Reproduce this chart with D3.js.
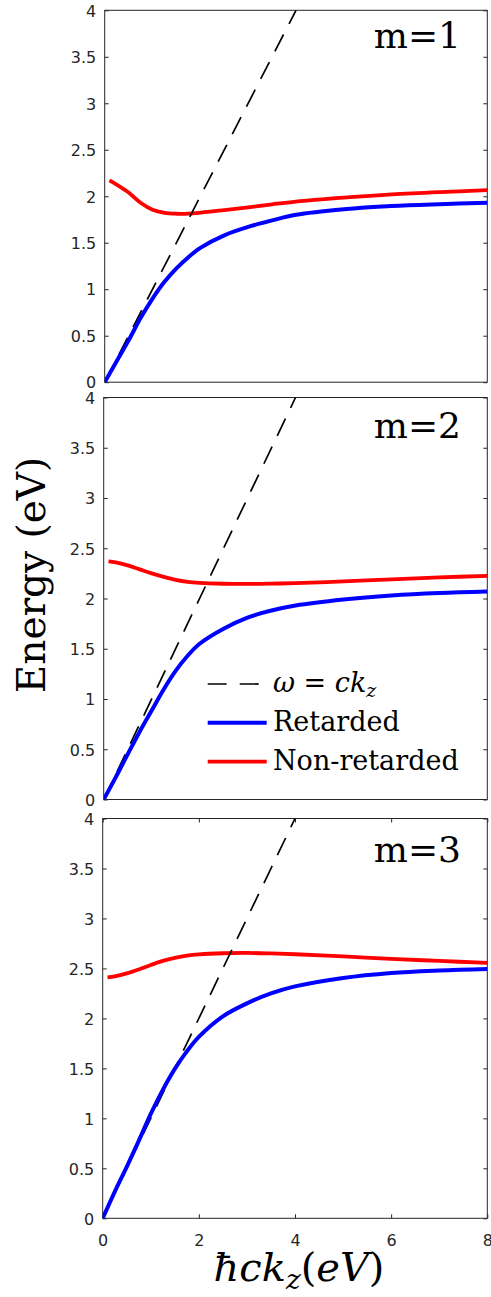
<!DOCTYPE html>
<html>
<head>
<meta charset="utf-8">
<script src="https://cdn.jsdelivr.net/npm/d3@7"></script>
<style>
  body { margin: 0; background: #fff; }
  svg { display: block; }
  .tick text { font-family: "DejaVu Sans", sans-serif; font-size: 16px; fill: #262626; }
  .tick line { stroke: #262626; }
  .serif { font-family: "DejaVu Serif", serif; fill: #000; }
</style>
</head>
<body>
<svg id="chart" width="491" height="1297"></svg>
<script>
// hbar*c*kz (eV) sample points
const kzRetarded    = [0, 0.25, 0.5, 0.75, 1, 1.25, 1.5, 1.75, 2, 2.5, 3, 3.5, 4, 5, 6, 7, 8];
const kzNonRetarded = [0.1, 0.25, 0.5, 0.75, 1, 1.25, 1.5, 1.75, 2, 2.5, 3, 3.5, 4, 5, 6, 7, 8];

// Energy (eV), m = 1
const retardedM1    = [0, 0.225, 0.45, 0.69, 0.9, 1.08, 1.225, 1.345, 1.445, 1.58, 1.67, 1.74, 1.80, 1.86, 1.895, 1.915, 1.93];
const nonRetardedM1 = [2.17, 2.125, 2.04, 1.93, 1.855, 1.822, 1.812, 1.813, 1.823, 1.85, 1.88, 1.913, 1.943, 1.985, 2.02, 2.045, 2.065];
// m = 2
const retardedM2    = [0, 0.22, 0.45, 0.675, 0.885, 1.095, 1.28, 1.43, 1.55, 1.70, 1.81, 1.88, 1.93, 1.99, 2.03, 2.055, 2.07];
const nonRetardedM2 = [2.37, 2.36, 2.33, 2.29, 2.25, 2.215, 2.185, 2.165, 2.155, 2.147, 2.145, 2.148, 2.153, 2.17, 2.19, 2.21, 2.225];
// m = 3
const retardedM3    = [0, 0.265, 0.515, 0.775, 1.045, 1.285, 1.495, 1.67, 1.815, 2.02, 2.15, 2.25, 2.32, 2.405, 2.455, 2.48, 2.495];
const nonRetardedM3 = [2.41, 2.42, 2.45, 2.49, 2.535, 2.575, 2.605, 2.627, 2.64, 2.652, 2.655, 2.65, 2.642, 2.62, 2.595, 2.575, 2.555];

// light line omega = c kz
const lightK = [0, 4];
const lightE = [0, 4];

const xTickValues = [0, 2, 4, 6, 8];
const xTickLabels = ['0', '2', '4', '6', '8'];
const yTickValues = [0, 0.5, 1, 1.5, 2, 2.5, 3, 3.5, 4];
const yTickLabels = ['0', '0.5', '1', '1.5', '2', '2.5', '3', '3.5', '4'];
const modeLabels = ['m=1', 'm=2', 'm=3'];

const panels = [
  { left: 104.7, right: 487.3, top: 10.3,  bottom: 382.2,  label: modeLabels[0], labelDy: 38, retarded: retardedM1, nonRetarded: nonRetardedM1, xTicks: false, legend: false },
  { left: 103.7, right: 487.3, top: 397.5, bottom: 799.5,  label: modeLabels[1], labelDy: 40, retarded: retardedM2, nonRetarded: nonRetardedM2, xTicks: false, legend: true },
  { left: 102.7, right: 487.3, top: 818.5, bottom: 1218.3, label: modeLabels[2], labelDy: 43, retarded: retardedM3, nonRetarded: nonRetardedM3, xTicks: true,  legend: false }
];

const svg = d3.select('#chart');
const axisColor = '#262626';

panels.forEach((p, i) => {
  const width = p.right - p.left;
  const height = p.bottom - p.top;

  const x = d3.scaleLinear().domain([0, 8]).range([0, width]);
  const y = d3.scaleLinear().domain([0, 4]).range([height, 0]);

  const g = svg.append('g').attr('transform', `translate(${p.left},${p.top})`);

  g.append('clipPath').attr('id', `clip${i}`)
    .append('rect').attr('width', width).attr('height', height);

  // y axis, ticks pointing inward
  const yAxis = d3.axisLeft(y).tickValues(yTickValues)
    .tickFormat((d, j) => yTickLabels[j])
    .tickSizeInner(-4).tickSizeOuter(0).tickPadding(8.5);
  g.append('g').call(yAxis)
    .call(a => a.select('.domain').remove())
    .selectAll('text').attr('dy', '0.36em');

  g.append('g').attr('transform', `translate(${width},0)`)
    .call(d3.axisRight(y).tickValues(yTickValues).tickFormat('').tickSizeInner(-4).tickSizeOuter(0))
    .call(a => a.select('.domain').remove());

  if (p.xTicks) {
    g.append('g').attr('transform', `translate(0,${height})`)
      .call(d3.axisBottom(x).tickValues(xTickValues)
        .tickFormat((d, j) => xTickLabels[j])
        .tickSizeInner(-4).tickSizeOuter(0).tickPadding(16))
      .call(a => a.select('.domain').remove());
    g.append('g')
      .call(d3.axisTop(x).tickValues(xTickValues).tickFormat('').tickSizeInner(-4).tickSizeOuter(0))
      .call(a => a.select('.domain').remove());
  }

  g.append('rect')
    .attr('width', width).attr('height', height)
    .attr('fill', 'none').attr('stroke', axisColor).attr('stroke-width', 1);

  const line = d3.line().x(d => x(d[0])).y(d => y(d[1])).curve(d3.curveCatmullRom.alpha(0.5));
  const plot = g.append('g').attr('clip-path', `url(#clip${i})`);

  plot.append('path')
    .datum(kzNonRetarded.map((k, j) => [k, p.nonRetarded[j]]))
    .attr('d', line).attr('fill', 'none')
    .attr('stroke', '#ff0000').attr('stroke-width', 3.8);

  plot.append('path')
    .datum(lightK.map((k, j) => [k, lightE[j]]))
    .attr('d', d3.line().x(d => x(d[0])).y(d => y(d[1])))
    .attr('fill', 'none').attr('stroke', '#000')
    .attr('stroke-width', 1.7).attr('stroke-dasharray', '19,12');

  plot.append('path')
    .datum(kzRetarded.map((k, j) => [k, p.retarded[j]]))
    .attr('d', line).attr('fill', 'none')
    .attr('stroke', '#0000ff').attr('stroke-width', 4);

  g.append('text').attr('class', 'serif')
    .attr('x', 461 - p.left).attr('y', p.labelDy)
    .attr('text-anchor', 'end')
    .style('font-size', '36px')
    .text(p.label);

  if (p.legend) {
    const legendRows = [
      { y: 684 - p.top, color: '#000', width: 1.7, dash: '19,13' },
      { y: 722.7 - p.top, color: '#0000ff', width: 4, dash: null },
      { y: 761.7 - p.top, color: '#ff0000', width: 3.8, dash: null }
    ];
    const lx0 = 207.7 - p.left, lx1 = 266.7 - p.left, tx = 273 - p.left;
    legendRows.forEach(r => {
      g.append('line')
        .attr('x1', lx0).attr('x2', lx1).attr('y1', r.y).attr('y2', r.y)
        .attr('stroke', r.color).attr('stroke-width', r.width)
        .attr('stroke-dasharray', r.dash);
    });
    const t0 = g.append('text').attr('class', 'serif')
      .attr('x', tx).attr('y', legendRows[0].y + 8).style('font-size', '27px');
    t0.append('tspan').style('font-style', 'italic').text('ω');
    t0.append('tspan').text(' = ');
    t0.append('tspan').style('font-style', 'italic').text('ck');
    t0.append('tspan').style('font-style', 'italic').style('font-size', '19px').attr('dy', 5).text('z');

    g.append('text').attr('class', 'serif')
      .attr('x', tx).attr('y', legendRows[1].y + 8).style('font-size', '27px')
      .text('Retarded');
    g.append('text').attr('class', 'serif')
      .attr('x', tx).attr('y', legendRows[2].y + 8).style('font-size', '27px')
      .text('Non-retarded');
  }
});

// y axis title
svg.append('text').attr('class', 'serif')
  .attr('transform', 'translate(45,575) rotate(-90)')
  .attr('text-anchor', 'middle')
  .style('font-size', '39px')
  .text('Energy (eV)');

// x axis title
const xt = svg.append('text').attr('class', 'serif')
  .attr('x', 299).attr('y', 1281)
  .attr('text-anchor', 'middle')
  .style('font-size', '40px').style('font-style', 'italic');
xt.append('tspan').text('ħck');
xt.append('tspan').style('font-size', '28px').attr('dy', 8).text('z');
xt.append('tspan').style('font-style', 'normal').attr('dy', -8).text('(');
xt.append('tspan').text('eV');
xt.append('tspan').style('font-style', 'normal').text(')');
</script>
</body>
</html>
